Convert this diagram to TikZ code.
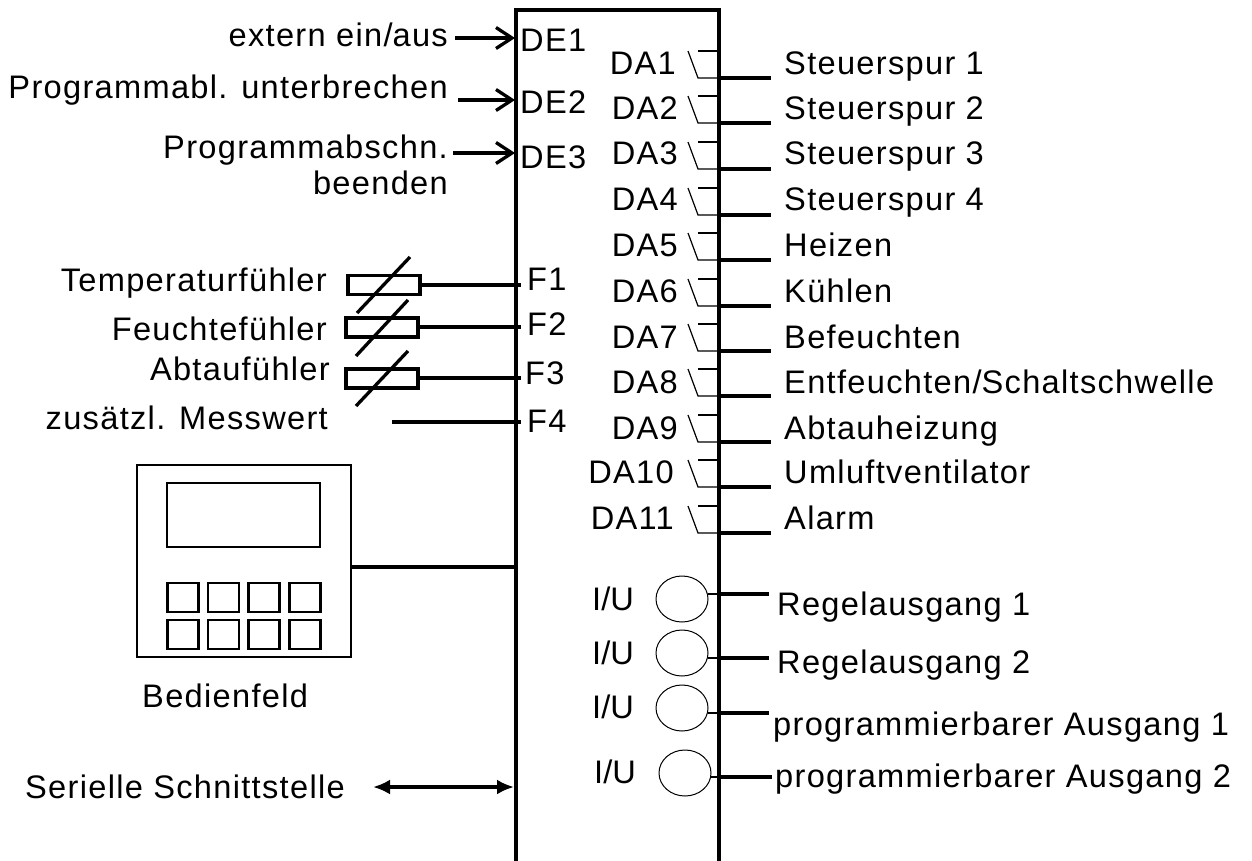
\documentclass[tikz,border=0pt]{standalone}
\usepackage{fontspec}
\setmainfont[LetterSpace=4]{Liberation Sans}
\usetikzlibrary{arrows.meta,shapes.geometric}
\tikzset{
  x=1pt,y=-1pt,
  lab/.style={inner sep=0pt,font=\fontsize{32.6}{38}\selectfont,align=left},
  labr/.style={lab,anchor=base east},
  labl/.style={lab,anchor=base west},
  thick3/.style={line width=3.8pt},
  wire/.style={line width=3.3pt},
  thin1/.style={line width=1.2pt},
  arr/.style={line width=3.3pt,-{Straight Barb[length=16pt,width=21pt,line width=3.3pt]}},
  sensor/.style={draw,line width=3.2pt,minimum width=72pt,minimum height=19pt,inner sep=0pt},
  key/.style={draw,line width=2.6pt,minimum width=31pt,minimum height=29pt,inner sep=0pt},
  ring/.style={draw,line width=1pt,ellipse,minimum width=52pt,minimum height=46pt,inner sep=0pt},
  boxp/.style={draw,line width=2.8pt,inner sep=0pt},
}
\begin{document}
\begin{tikzpicture}
\useasboundingbox (0,0) rectangle (1252,861);
\fill[white] (0,0) rectangle (1252,861);
% main box
\draw[thick3] (516,861) coordinate (bl) -- (516,10) -- (719,10) -- (719,861) coordinate (br);
% digital inputs
\foreach \n/\t/\xa/\y/\yl in {1/extern ein\slash aus/455/38/47,2/Programmabl. unterbrechen/458/100/99,3/Programmabschn./453/153/159}{
  \node[labr] (il\n) at (448,\yl) {\t};
  \coordinate (ia\n) at (\xa,\y);
  \coordinate (ib\n) at (515,\y);
  \draw[arr] (ia\n) -- (ib\n);
}
\node[labr] (il3b) at (448,195) {beenden};
\node[labl] (de1) at (520,52) {DE1};
\node[labl] (de2) at (520,114) {DE2};
\node[labl] (de3) at (520,169) {DE3};
% sensors
\node[labr] (t1) at (327,291) {Temperaturfühler};
\node[labr] (t2) at (327,340) {Feuchtefühler};
\node[labr] (t3) at (330,380) {Abtaufühler};
\node[labr] (t4) at (328,429) {zusätzl. Messwert};
\node[sensor] (s1) at (384,285) {};
\node[sensor] (s2) at (382,327.5) {};
\node[sensor] (s3) at (382,378.5) {};
\node[labl] (f1) at (527,290) {F1};
\node[labl] (f2) at (527,335) {F2};
\node[labl] (f3) at (525,384) {F3};
\node[labl] (f4) at (527,432) {F4};
\coordinate (e1) at (521,285);
\coordinate (e2) at (521,327);
\coordinate (e3) at (521,378);
\coordinate (e4) at (521,422);
\coordinate (e4s) at (392,422);
\draw[wire] (s1.east |- e1) -- (e1);
\draw[wire] (s2.east |- e2) -- (e2);
\draw[wire] (s3.east |- e3) -- (e3);
\draw[wire] (e4s) -- (e4);
\draw[wire] (357,313) -- (410,257);
\draw[wire] (356,356) -- (408,300);
\draw[wire] (356,406) -- (408,351);
% digital outputs
\foreach \n/\dl/\t/\y/\xe/\yb in {
 1/DA1/Steuerspur 1/78/676/75,2/DA2/Steuerspur 2/123/678/120,3/DA3/Steuerspur 3/169/678/165,
 4/DA4/Steuerspur 4/215/678/211,5/DA5/Heizen/260/678/256,6/DA6/Kühlen/306/678/302,
 7/DA7/Befeuchten/351/678/348,8/DA8/Entfeuchten\slash Schaltschwelle/396/678/393,9/DA9/Abtauheizung/442/678/439,
 10/DA10/Umluftventilator/487/674/483,11/DA11/Alarm/533/674/529}{
  \coordinate (ca\n) at (698,\y);
  \coordinate (cb\n) at (718,\y);
  \coordinate (cc\n) at (771,\y);
  \coordinate (cd\n) at (688,\y-27);
  \coordinate (ce\n) at (698,\y-27);
  \coordinate (cf\n) at (718,\y-27);
  \draw[thin1] (cd\n) -- (ca\n) -- (cb\n);
  \draw[thin1] (ce\n) -- (cf\n);
  \draw[wire] (cb\n) -- (cc\n);
  \node[labr] (dl\n) at (\xe,\yb) {\dl};
  \node[labl] (dt\n) at (784,\yb) {\t};
}
% analogue outputs
\foreach \n/\t/\cx/\cy/\ly/\lx/\tx/\ty/\ux/\uy in {
 1/Regelausgang 1/682/599/594/769/777/615/592/610,
 2/Regelausgang 2/682/653/658/769/777/673/592/664,
 3/programmierbarer Ausgang 1/682/708/713/769/773/735/592/718,
 4/programmierbarer Ausgang 2/685/773/777/772/775/787/594/783}{
  \node[ring] (r\n) at (\cx,\cy) {};
  \coordinate (la\n) at (\cx+26,\ly);
  \coordinate (lb\n) at (\lx,\ly);
  \draw[thin1] (la\n) -- (718,\ly);
  \draw[wire] (718,\ly) -- (lb\n);
  \node[labl] (rt\n) at (\tx,\ty) {\t};
  \node[labl] (iu\n) at (\ux,\uy) {\addfontfeature{LetterSpace=0}I\slash U};
}
% panel
\node[boxp,minimum width=214pt,minimum height=192pt] (panel) at (244,561) {};
\node[boxp,minimum width=153pt,minimum height=64pt] (disp) at (243.5,515) {};
\foreach \i/\x in {1/183,2/223.5,3/264,4/305}{
  \node[key] (ka\i) at (\x,597.5) {};
  \node[key] (kb\i) at (\x,634.5) {};
}
\coordinate (pj) at (516,567);
\draw[wire] (panel.east |- pj) -- (pj);
\node[lab,anchor=base west] (pl) at (142,707) {Bedienfeld};
% serial
\node[labr] (ser) at (345,798) {Serielle Schnittstelle};
\coordinate (sa) at (373,787);
\coordinate (sb) at (514,787);
\draw[line width=3.3pt,{Latex[length=17pt,width=15pt]}-{Latex[length=17pt,width=15pt]}] (sa) -- (sb);
\end{tikzpicture}
\end{document}
